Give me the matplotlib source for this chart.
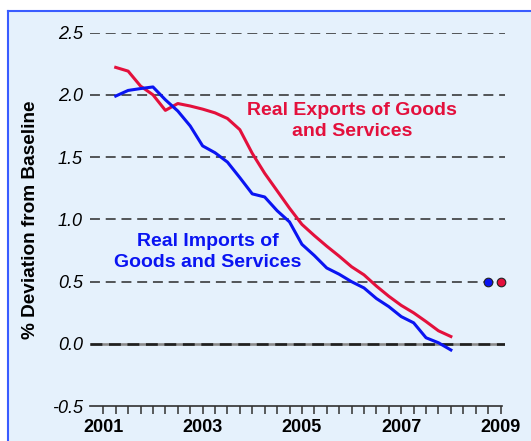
import numpy as np
import matplotlib
matplotlib.use('Agg')
import matplotlib.pyplot as plt
from matplotlib.patches import Rectangle

plt.rcParams['font.family'] = ['Liberation Sans', 'DejaVu Sans']

# Datos trimestrales, 2001T2 a 2008T1
trimestres = 2001.25 + 0.25 * np.arange(28)

exportaciones = [2.22, 2.19, 2.07, 2.00, 1.875, 1.93, 1.91, 1.885, 1.855, 1.81,
                 1.72, 1.53, 1.37, 1.23, 1.09, 0.96, 0.87, 0.785, 0.705, 0.62,
                 0.555, 0.465, 0.383, 0.31, 0.25, 0.18, 0.106, 0.06]
importaciones = [1.99, 2.035, 2.05, 2.063, 1.96, 1.87, 1.75, 1.59, 1.535, 1.46,
                 1.335, 1.205, 1.18, 1.07, 0.98, 0.80, 0.71, 0.61, 0.56, 0.50,
                 0.45, 0.365, 0.30, 0.22, 0.17, 0.05, 0.01, -0.048]

# Puntos sueltos a la derecha
punto_imp = (2008.75, 0.5)
punto_exp = (2009.0, 0.5)

niveles_y = [2.5, 2.0, 1.5, 1.0, 0.5]
etiquetas_x = [2001, 2003, 2005, 2007, 2009]

rojo = '#e3103c'
azul = '#0a14f2'

fig = plt.figure(figsize=(5.31, 4.41), dpi=100)
fig.patch.set_facecolor('white')

# Fondo azul claro con borde azul a la izquierda y arriba (en un eje de fondo)
fondo = fig.add_axes([0, 0, 1, 1], zorder=-10)
fondo.set_xlim(0, 531)
fondo.set_ylim(441, 0)
fondo.axis('off')
fondo.add_patch(Rectangle((8, 11), 531 - 8, 441 - 11, facecolor='#e5f1fc', edgecolor='none'))
fondo.plot([8, 8], [441, 11], color='#3a5cff', lw=1.5)
fondo.plot([8, 531], [11, 11], color='#3a5cff', lw=1.5)

ax = fig.add_axes([89.7 / 531, 1 - 406.3 / 441, (505 - 89.7) / 531, (406.3 - 32.5) / 441])
ax.set_facecolor('none')
ax.set_xlim(2000.726, 2009.09)
ax.set_ylim(-0.5, 2.5)

for s in ['top', 'right', 'left', 'bottom']:
    ax.spines[s].set_visible(False)

# Lineas de referencia discontinuas
for nivel in niveles_y:
    ax.axhline(nivel, color='#2a2a2a', lw=1.1, dashes=(6.5, 3.8), zorder=1)
ax.axhline(0.0, color='#8a8a8a', lw=1.9, zorder=1)
ax.axhline(0.0, color='#202020', lw=1.9, dashes=(4.5, 2.5), zorder=1)

# Eje x en -0.5
ax.plot([2000.726, 2009.03], [-0.5, -0.5], color='#303030', lw=1.2, clip_on=False, zorder=2)

ax.plot(trimestres, exportaciones, color=rojo, lw=2.2, zorder=3, solid_joinstyle='round')
ax.plot(trimestres, importaciones, color=azul, lw=2.2, zorder=3, solid_joinstyle='round')

ax.plot(*punto_imp, 'o', ms=6.2, mfc=azul, mec='#222222', mew=0.8, clip_on=False, zorder=4)
ax.plot(*punto_exp, 'o', ms=6.2, mfc=rojo, mec='#222222', mew=0.8, clip_on=False, zorder=4)

# Ticks
ax.set_yticks([2.5, 2.0, 1.5, 1.0, 0.5, 0.0, -0.5])
ax.set_yticklabels(['2.5', '2.0', '1.5', '1.0', '0.5', '0.0', '-0.5'],
                   fontsize=13, fontstyle='italic')
ax.tick_params(axis='y', length=0, pad=5)

ticks_x = 2001 + 0.25 * np.arange(33)
ax.set_xticks(ticks_x)
ax.set_xticklabels([str(int(t)) if t in etiquetas_x else '' for t in ticks_x],
                   fontsize=13, fontweight='bold')
ax.tick_params(axis='x', direction='out', length=6, width=1.1, color='#303030', pad=3)

ax.text(2006.01, 1.79, 'Real Exports of Goods\nand Services', color=rojo,
        fontsize=14, fontweight='bold', ha='center', va='center', linespacing=1.3)
ax.text(2003.11, 0.74, 'Real Imports of\nGoods and Services', color=azul,
        fontsize=14, fontweight='bold', ha='center', va='center', linespacing=1.3)

fig.text(31 / 531, 1 - 220 / 441, '% Deviation from Baseline', rotation=90,
         fontsize=13.7, fontweight='bold', ha='center', va='center')

plt.savefig('out.png', dpi=100)
